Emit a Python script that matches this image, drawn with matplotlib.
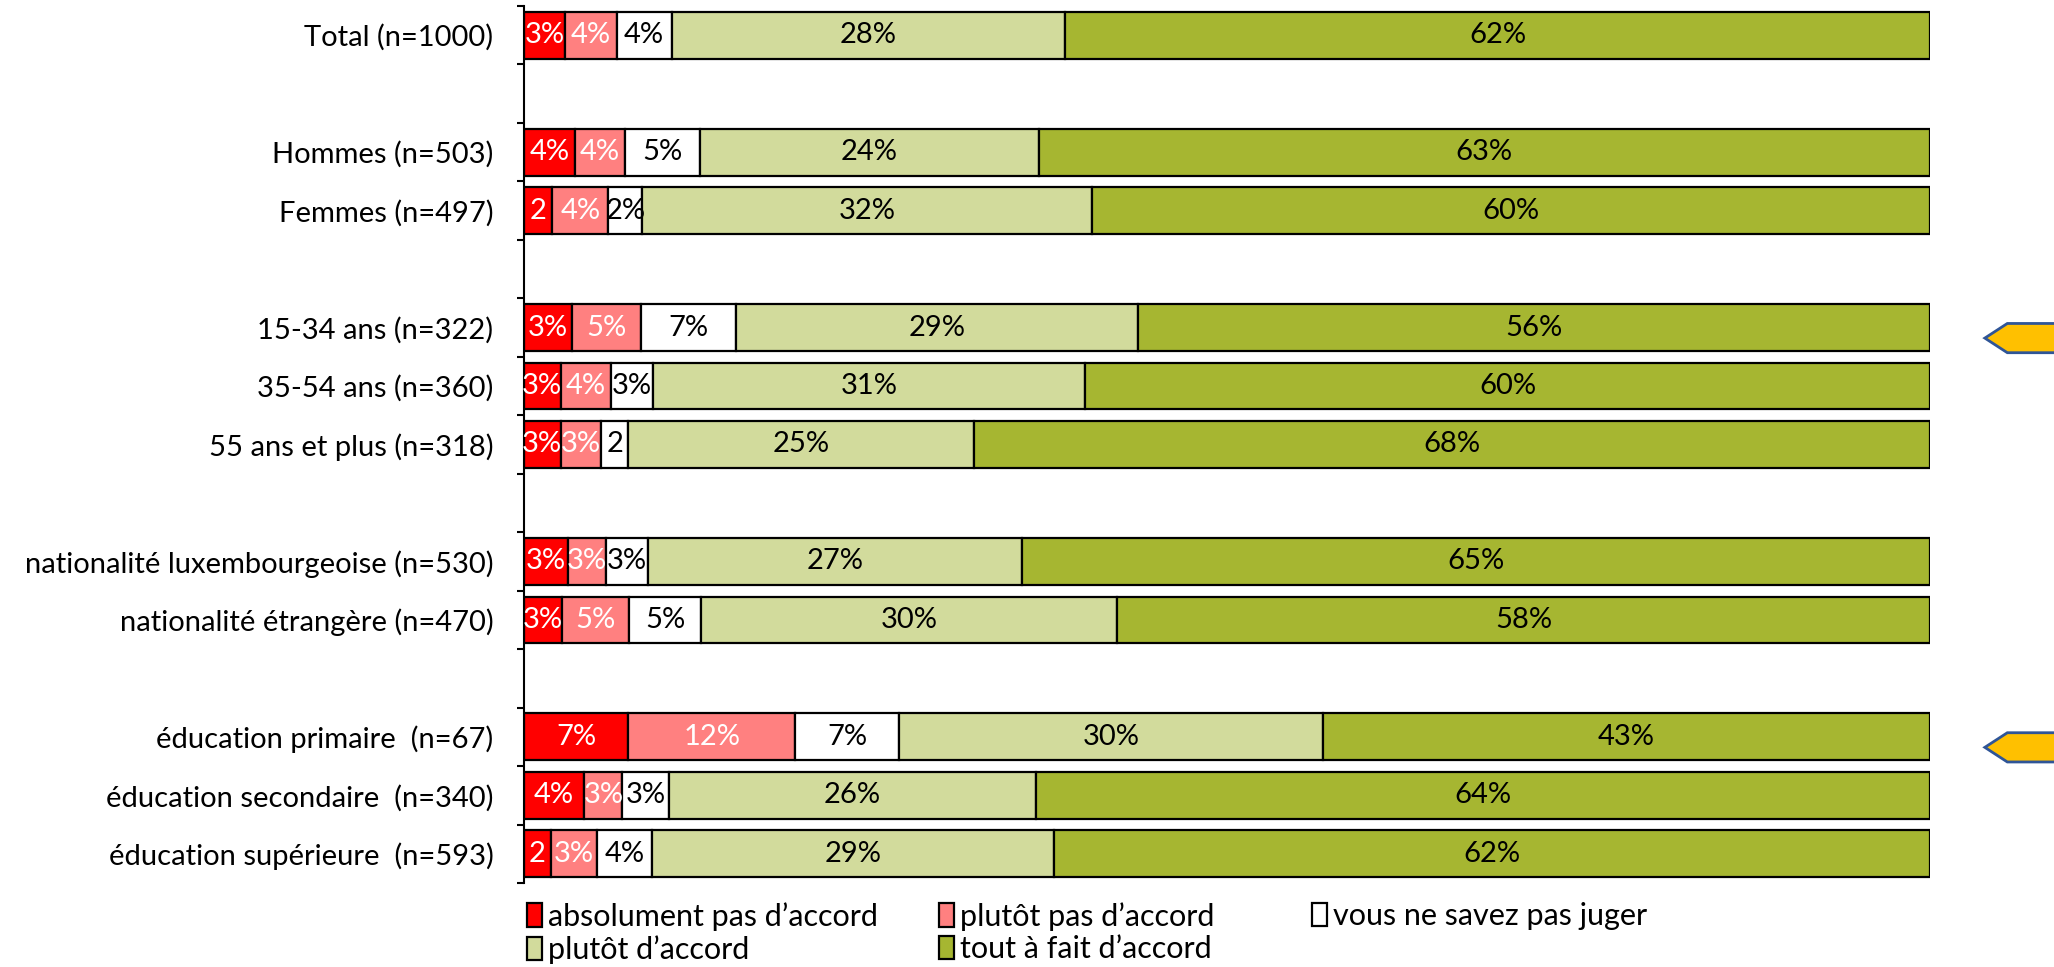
import matplotlib
matplotlib.use("Agg")
import matplotlib.pyplot as plt
from matplotlib.patches import Polygon
from matplotlib.transforms import blended_transform_factory

plt.rcParams['font.family'] = ['Lato', 'DejaVu Sans']

categories = ["Total (n=1000)",
              "Hommes (n=503)", "Femmes (n=497)",
              "15-34 ans (n=322)", "35-54 ans (n=360)", "55 ans et plus (n=318)",
              "nationalité luxembourgeoise (n=530)", "nationalité étrangère (n=470)",
              "éducation primaire  (n=67)", "éducation secondaire  (n=340)",
              "éducation supérieure  (n=593)"]
groups = [1, 2, 3, 2, 3]

series = ["absolument pas d’accord", "plutôt pas d’accord", "vous ne savez pas juger",
          "plutôt d’accord", "tout à fait d’accord"]
absolument_pas = [2.9, 3.6, 2.0, 3.4, 2.6, 2.6, 3.1, 2.7, 7.4, 4.3, 1.9]
plutot_pas = [3.7, 3.6, 4.0, 4.9, 3.6, 2.9, 2.7, 4.8, 11.9, 2.7, 3.3]
ne_sait_pas = [3.9, 5.3, 2.4, 6.8, 3.0, 1.9, 3.0, 5.1, 7.4, 3.3, 3.9]
plutot_accord = [28.0, 24.1, 32.0, 28.6, 30.7, 24.6, 26.6, 29.6, 30.1, 26.1, 28.6]
tout_a_fait = [61.5, 63.4, 59.6, 56.3, 60.1, 68.0, 64.6, 57.8, 43.2, 63.6, 62.3]
values = [absolument_pas, plutot_pas, ne_sait_pas, plutot_accord, tout_a_fait]

highlighted = ["15-34 ans (n=322)", "éducation primaire  (n=67)"]

colors = ['#FF0000', '#FF8080', '#FFFFFF', '#D2DB9C', '#A6B631']
text_colors = ['white', 'white', 'black', 'black', 'black']

# row positions with an empty row between groups
pos = []
row = 0
for g in groups:
    for _ in range(g):
        pos.append(row)
        row += 1
    row += 1
n_rows = row - 1

fig = plt.figure(figsize=(20.54, 9.67), dpi=100)
ax = fig.add_axes([524 / 2054, 1 - 883 / 967, (1930 - 524) / 2054, (883 - 6) / 967])

fs = 21
left = [0.0] * len(categories)
handles = []
for name, vals, c, tc in zip(series, values, colors, text_colors):
    bars = ax.barh(pos, vals, left=left, height=0.8, color=c, edgecolor='black',
                   linewidth=1.6, label=name)
    handles.append(bars)
    for p, l, v in zip(pos, left, vals):
        txt = f"{v:.0f}" if v < 2.2 else f"{v:.0f}%"
        ax.text(l + v / 2, p, txt, ha='center', va='center', color=tc, fontsize=fs)
    left = [a + b for a, b in zip(left, vals)]

ax.set_xlim(0, 100)
ax.set_ylim(n_rows - 0.5, -0.5)
ax.set_yticks(pos)
ax.set_yticklabels(categories, fontsize=fs)
ax.set_yticks([i - 0.5 for i in range(n_rows + 1)], minor=True)
ax.tick_params(axis='y', which='major', length=0, pad=22)
ax.tick_params(axis='y', which='minor', length=5, width=1.5, direction='out')
ax.set_xticks([])
for s in ['top', 'right', 'bottom']:
    ax.spines[s].set_visible(False)
ax.spines['left'].set_linewidth(1.5)

# highlight arrows on the right
tr = blended_transform_factory(ax.transAxes, ax.transData)
for cat in highlighted:
    p = pos[categories.index(cat)] + 0.18
    h = 0.25
    arrow = Polygon([(1.039, p), (1.055, p - h), (1.12, p - h), (1.12, p + h), (1.055, p + h)],
                    closed=True, transform=tr, clip_on=False, facecolor='#FFC000',
                    edgecolor='#2F5597', linewidth=2)
    ax.add_patch(arrow)

# legend laid out in rows, one legend per column
cols = [[0, 3], [1, 4], [2]]
xs = [527, 939, 1312]
for idx, x in zip(cols, xs):
    fig.legend([handles[i] for i in idx], [series[i] for i in idx], loc='upper left',
               bbox_to_anchor=(x / 2054, 1 - 902 / 967), frameon=False, fontsize=22,
               handlelength=0.5, handleheight=0.8, handletextpad=0.2, labelspacing=0.15,
               borderpad=0, borderaxespad=0)

fig.savefig("out.png", dpi=100)
